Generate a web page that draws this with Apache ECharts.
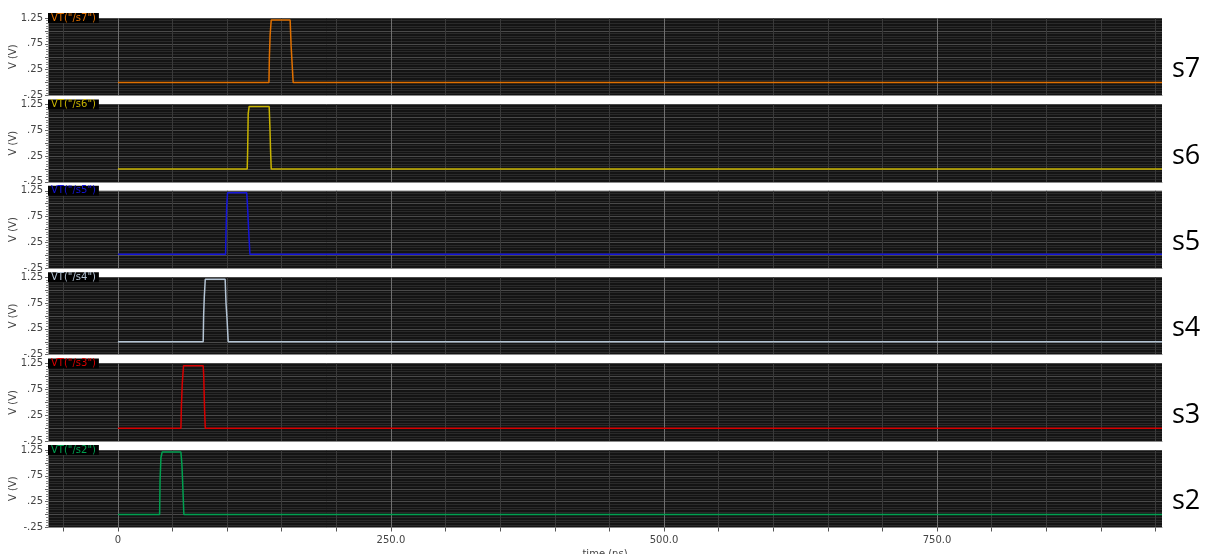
<!DOCTYPE html>
<html>
<head>
<meta charset="utf-8">
<script src="https://cdn.jsdelivr.net/npm/echarts@6/dist/echarts.min.js"></script>
<style>
html, body { margin: 0; padding: 0; background: #fff; }
#main { width: 1205px; height: 554px; }
</style>
</head>
<body>
<div id="main"></div>
<script>
// panels from top to bottom
var panelNames = ['s7', 's6', 's5', 's4', 's3', 's2'];
var traceNames = ['VT("/s7")', 'VT("/s6")', 'VT("/s5")', 'VT("/s4")', 'VT("/s3")', 'VT("/s2")'];

// time (ns) / voltage (V) of each transient trace
var s7Time = [0, 138.3, 138.7, 139.4, 140.4, 157.7, 158.6, 159.5, 160.5, 956];
var s7Volt = [0, 0, 0.5, 0.93, 1.21, 1.21, 0.71, 0.37, 0, 0];
var s6Time = [0, 118.4, 118.8, 119.3, 120.2, 138.5, 139.2, 139.8, 140.4, 956];
var s6Volt = [0, 0, 0.35, 1.07, 1.21, 1.21, 0.8, 0.35, 0, 0];
var s5Time = [0, 98.6, 99.0, 99.6, 100.4, 118.0, 118.8, 119.8, 120.9, 956];
var s5Volt = [0.02, 0.02, 0.45, 0.95, 1.21, 1.21, 0.9, 0.45, 0.02, 0.02];
var s4Time = [0, 78.1, 78.5, 79.1, 80.0, 98.2, 99.0, 99.9, 101.0, 956];
var s4Volt = [0, 0, 0.51, 0.87, 1.21, 1.21, 0.74, 0.45, 0, 0];
var s3Time = [0, 57.7, 58.1, 58.9, 60.1, 78.1, 78.6, 79.3, 80.0, 956];
var s3Volt = [0, 0, 0.4, 0.85, 1.21, 1.21, 1.0, 0.4, 0, 0];
var s2Time = [0, 38.2, 38.6, 39.4, 40.5, 57.7, 58.6, 59.2, 60.4, 956];
var s2Volt = [0, 0, 0.66, 1.1, 1.21, 1.21, 0.97, 0.67, 0, 0];

var traceTimes = [s7Time, s6Time, s5Time, s4Time, s3Time, s2Time];
var traceVolts = [s7Volt, s6Volt, s5Volt, s4Volt, s3Volt, s2Volt];

// axes
var xTickValues = [-50, 0, 50, 100, 150, 200, 250, 300, 350, 400, 450, 500, 550, 600, 650, 700, 750, 800, 850, 900, 950];
var xLabelValues = [0, 250, 500, 750];
var xLabelTexts = ['0', '250.0', '500.0', '750.0'];
var yLabelValues = [-0.25, 0.25, 0.75, 1.25];
var yLabelTexts = ['-.25', '.25', '.75', '1.25'];

var traceColors = ['#e07000', '#c8b400', '#1414d8', '#b4c4d4', '#d80000', '#00a050'];

var gridTop = 18, gridStep = 86.4, gridHeight = 77.5;

var grids = [], xAxes = [], yAxes = [], series = [], titles = [], texts = [];

panelNames.forEach(function (name, i) {
    var top = gridTop + gridStep * i;
    var last = i === panelNames.length - 1;
    grids.push({
        left: 48, width: 1114, top: top, height: gridHeight,
        outerBoundsMode: 'none', containLabel: false,
        show: true, backgroundColor: '#141414', borderWidth: 0
    });
    xAxes.push({
        type: 'value', gridIndex: i, min: -64, max: 956,
        axisLine: {show: true, onZero: false, lineStyle: {color: '#8a8a8a', width: 1}},
        axisTick: {show: last, customValues: xTickValues, length: 4, lineStyle: {color: '#555'}},
        axisLabel: {
            show: last, customValues: xLabelValues, margin: 8,
            color: '#444', fontSize: 10, fontFamily: 'DejaVu Sans',
            formatter: function (v) { return xLabelTexts[xLabelValues.indexOf(v)]; }
        },
        splitLine: {show: true, lineStyle: {color: ['#3a3a3a', '#707070', '#3a3a3a', '#3a3a3a', '#3a3a3a'], width: 1}},
        name: last ? 'time (ns)' : '', nameLocation: 'middle', nameGap: 22, nameMoveOverlap: false,
        nameTextStyle: {color: '#444', fontSize: 10, fontFamily: 'DejaVu Sans'}
    });
    yAxes.push({
        type: 'value', gridIndex: i, min: -0.25, max: 1.25, interval: 0.25,
        axisLine: {show: true, onZero: false, lineStyle: {color: '#8a8a8a'}},
        axisTick: {show: true, length: 3, lineStyle: {color: '#666'}},
        minorTick: {show: true, splitNumber: 5, length: 2, lineStyle: {color: '#888'}},
        axisLabel: {
            customValues: yLabelValues, margin: 5,
            color: '#444', fontSize: 10, fontFamily: 'DejaVu Sans',
            formatter: function (v) { return yLabelTexts[yLabelValues.indexOf(v)]; }
        },
        splitLine: {show: true, lineStyle: {color: '#4a4a4a', width: 1}},
        minorSplitLine: {show: true, lineStyle: {color: '#2a2a2a', width: 1}},
        name: 'V (V)', nameLocation: 'middle', nameGap: 30, nameRotate: 90, nameMoveOverlap: false,
        nameTextStyle: {color: '#444', fontSize: 10, fontFamily: 'DejaVu Sans'}
    });
    series.push({
        name: traceNames[i], type: 'line', xAxisIndex: i, yAxisIndex: i,
        showSymbol: false, symbol: 'none', animation: false,
        lineStyle: {color: traceColors[i], width: 1.5},
        data: traceTimes[i].map(function (t, k) { return [t, traceVolts[i][k]]; })
    });
    titles.push({
        text: traceNames[i], left: 48, top: top - 5,
        backgroundColor: '#000', padding: [0, 3],
        textStyle: {color: traceColors[i], fontSize: 10, fontWeight: 'normal', fontFamily: 'DejaVu Sans', lineHeight: 10}
    });
    texts.push({
        type: 'text', left: 1172, top: top + 38,
        style: {text: name, fontSize: 27, fontFamily: 'Open Sans', fill: '#000'}
    });
});

var chart = echarts.init(document.getElementById('main'));
chart.setOption({
    animation: false,
    backgroundColor: '#fff',
    title: titles,
    grid: grids,
    xAxis: xAxes,
    yAxis: yAxes,
    series: series,
    graphic: texts
});
</script>
</body>
</html>
